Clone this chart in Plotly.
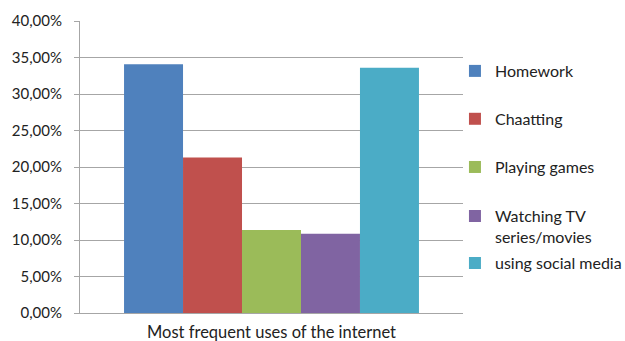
import plotly.graph_objects as go

category = ["Most frequent uses of the internet"]
series_names = ["Homework", "Chaatting", "Playing games", "Watching TV<br>series/movies", "using social media"]
series_values = [0.3407, 0.2130, 0.1137, 0.1086, 0.3360]
colors = ["#4F81BD", "#C0504D", "#9BBB59", "#8064A2", "#4BACC6"]
y_ticks = [0, 0.05, 0.10, 0.15, 0.20, 0.25, 0.30, 0.35, 0.40]
legend_y = [0.887, 0.723, 0.558, 0.390, 0.229]

font_family = "Lato, 'Open Sans', sans-serif"
fig = go.Figure()
legend_layouts = {}
for i, (name, val, col, ly) in enumerate(zip(series_names, series_values, colors, legend_y)):
    lname = "legend" if i == 0 else f"legend{i+1}"
    fig.add_trace(go.Bar(
        x=category, y=[val], name=name, marker_color=col,
        marker_line_width=0, legend=lname,
    ))
    legend_layouts[lname] = dict(
        x=0.979, xanchor="left", y=ly, yanchor="top", valign="top",
        font=dict(size=16, color="#222222", family=font_family),
        bgcolor="rgba(0,0,0,0)",
    )

fig.update_layout(
    width=625, height=341,
    margin=dict(l=80, r=162, t=21, b=28, autoexpand=False),
    paper_bgcolor="white", plot_bgcolor="white",
    separators=", ",
    barmode="group", bargap=0.23, bargroupgap=0,
    font=dict(family=font_family, size=15, color="#222222"),
    showlegend=True,
    xaxis=dict(
        showline=True, linecolor="#A6A6A6", linewidth=1,
        ticks="", showgrid=False, automargin=False,
        tickfont=dict(size=16.5), ticklabelstandoff=4,
    ),
    yaxis=dict(
        range=[0, 0.40], tickvals=y_ticks, tickformat=".2%",
        showline=True, linecolor="#A6A6A6", linewidth=1,
        ticks="outside", ticklen=5, tickcolor="#A6A6A6",
        showgrid=True, gridcolor="#A6A6A6", gridwidth=1,
        zeroline=False, automargin=False, ticklabelstandoff=9,
    ),
    **legend_layouts,
)

fig.write_html("out.html")
